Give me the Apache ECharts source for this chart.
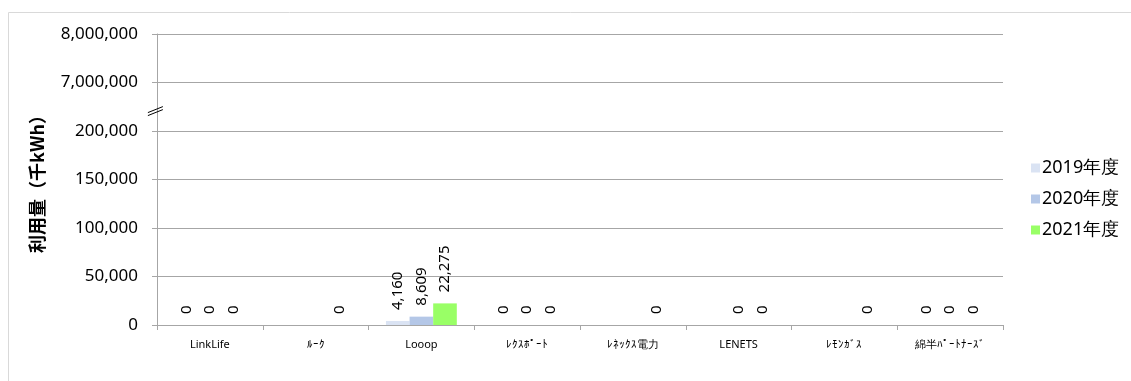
<!DOCTYPE html>
<html><head><meta charset="utf-8">
<script src="https://cdn.jsdelivr.net/npm/echarts@6/dist/echarts.min.js"></script>
<style>html,body{margin:0;padding:0;background:#fff}#c{width:1131px;height:381px}</style>
</head><body><div id="c"></div>
<script>
const categories = ['LinkLife','ﾙｰｸ','Looop','ﾚｸｽﾎﾟｰﾄ','ﾚﾈｯｸｽ電力','LENETS','ﾚﾓﾝｶﾞｽ','綿半ﾊﾟｰﾄﾅｰｽﾞ'];
const seriesNames = ['2019年度','2020年度','2021年度'];
const v2019 = [0, null, 4160, 0, null, null, null, 0];
const v2020 = [0, null, 8609, 0, null, 0, null, 0];
const v2021 = [0, 0, 22275, 0, 0, 0, 0, 0];
// broken axis: ticks 0..200000 linear, then two ticks above the break
const yTicks = [0, 50000, 100000, 150000, 200000, 250000, 300000];
const yTickLabels = ['0','50,000','100,000','150,000','200,000','7,000,000','8,000,000'];
const breakValue = 220000;
const colors = ['#dae3f3','#b4c7e7','#99ff66'];

const chart = echarts.init(document.getElementById('c'));
const fmt = v => Number(v).toLocaleString('en-US');
const mkSeries = (name, data, i) => ({
  name, type: 'bar', data, barGap: '0%', barCategoryGap: '33%',
  itemStyle: {color: colors[i]},
  label: {show: true, position: 'top', rotate: 90, align: 'left', verticalAlign: 'middle',
    distance: 11, fontSize: 15, color: '#000', fontFamily: 'Noto Sans',
    formatter: p => fmt(p.value)}
});
chart.setOption({
  animation: false,
  textStyle: {fontFamily: 'Noto Sans'},
  grid: {left: 157, right: 128, top: 34, bottom: 56},
  legend: {orient: 'vertical', left: 1026, top: 154, itemWidth: 9, itemHeight: 9, itemGap: 13,
    icon: 'rect', textStyle: {fontSize: 18, color: '#000', padding: [0,0,0,-3]}, data: seriesNames},
  xAxis: {type: 'category', data: categories,
    axisLine: {lineStyle: {color: '#a6a6a6'}},
    axisTick: {show: true, length: 5, lineStyle: {color: '#a6a6a6'}},
    axisLabel: {fontSize: 11, color: '#000', margin: 14}},
  yAxis: {type: 'value', min: 0, max: 300000, interval: 50000,
    name: '利用量（千kWh）', nameLocation: 'middle', nameGap: 111, nameRotate: 90,
    nameTextStyle: {fontSize: 18, fontWeight: 'bold', color: '#000', fontFamily: 'Noto Sans CJK JP'},
    axisLine: {show: true, lineStyle: {color: '#a6a6a6'}},
    axisTick: {show: true, length: 5, inside: false, lineStyle: {color: '#a6a6a6'}},
    splitLine: {lineStyle: {color: '#a6a6a6'}},
    axisLabel: {fontSize: 17, color: '#000', margin: 19,
      formatter: v => { const i = yTicks.indexOf(v); return i >= 0 ? yTickLabels[i] : ''; }}},
  series: [mkSeries(seriesNames[0], v2019, 0), mkSeries(seriesNames[1], v2020, 1), mkSeries(seriesNames[2], v2021, 2)]
});
const x0 = chart.convertToPixel({xAxisIndex: 0}, 0) - 53;
const yb = chart.convertToPixel({yAxisIndex: 0}, breakValue);
chart.setOption({graphic: [
  {type: 'rect', shape: {x: 8.5, y: 12.5, width: 1200, height: 500}, style: {fill: null, stroke: '#d9d9d9', lineWidth: 1}, silent: true},
  {type: 'line', shape: {x1: x0 - 9, y1: yb + 1, x2: x0 + 6, y2: yb - 5}, style: {stroke: '#000', lineWidth: 1}, z: 101},
  {type: 'line', shape: {x1: x0 - 9, y1: yb + 4, x2: x0 + 6, y2: yb - 2}, style: {stroke: '#000', lineWidth: 1}, z: 101}
]});
</script></body></html>
